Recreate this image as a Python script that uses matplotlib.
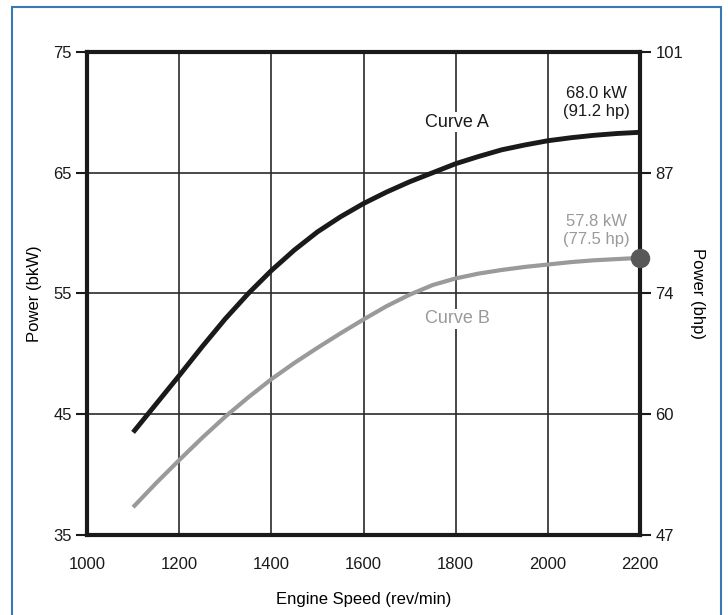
import numpy as np
import matplotlib.pyplot as plt
from matplotlib.patches import Rectangle

plt.rcParams['font.family'] = ['Liberation Sans', 'DejaVu Sans']

# valores (cada 50 rev/min)
rpm = [1100, 1150, 1200, 1250, 1300, 1350, 1400, 1450, 1500, 1550, 1600, 1650,
       1700, 1750, 1800, 1850, 1900, 1950, 2000, 2050, 2100, 2150, 2200]
curveA = [43.5, 45.85, 48.2, 50.6, 52.9, 55.0, 56.9, 58.6, 60.1, 61.35, 62.45, 63.4,
          64.25, 65.0, 65.75, 66.35, 66.9, 67.3, 67.65, 67.9, 68.1, 68.25, 68.35]
curveB = [37.3, 39.3, 41.2, 43.05, 44.8, 46.4, 47.9, 49.25, 50.5, 51.7, 52.85, 53.95,
          54.9, 55.7, 56.25, 56.65, 56.95, 57.2, 57.4, 57.6, 57.75, 57.85, 57.95]

xticks = [1000, 1200, 1400, 1600, 1800, 2000, 2200]
kw_ticks = [35, 45, 55, 65, 75]
hp_labels = ['47', '60', '74', '87', '101']

fig = plt.figure(figsize=(7.28, 6.15), dpi=100)
ax = fig.add_axes([87/728, 1-535/615, (640-87)/728, (535-52)/615])

# marco azul
fig.patches.append(Rectangle((12/728, -0.1), (721-12)/728, 1.1-7/615,
                             transform=fig.transFigure, fill=False,
                             edgecolor='#3a78b5', lw=1.5))

ax.set_xlim(1000, 2200)
ax.set_ylim(35, 75)

for x in xticks[1:-1]:
    ax.axvline(x, color='#2a2a2a', lw=1.2, zorder=1)
for y in kw_ticks[1:-1]:
    ax.axhline(y, color='#2a2a2a', lw=1.2, zorder=1)

ax.plot(rpm, curveA, color='#1a1a1a', lw=3.5, solid_capstyle='butt',
        solid_joinstyle='round', zorder=3)
ax.plot(rpm, curveB, color='#9a9a9a', lw=3.0, solid_capstyle='butt',
        solid_joinstyle='round', zorder=3)
ax.plot(rpm[-1], curveB[-1], 'o', color='#58585a', ms=13, zorder=5, clip_on=False)

for s in ax.spines.values():
    s.set_linewidth(3)
    s.set_color('#1a1a1a')

ax.set_xticks(xticks)
ax.set_yticks(kw_ticks)
ax.tick_params(axis='x', length=0, pad=16, labelsize=12, colors='#1a1a1a')
ax.tick_params(axis='y', length=8, width=1.5, pad=3, labelsize=12, colors='#1a1a1a')

ax2 = ax.twinx()
ax2.set_ylim(35, 75)
ax2.set_yticks(kw_ticks)
ax2.set_yticklabels(hp_labels)
ax2.tick_params(axis='y', length=8, width=1.5, pad=3, labelsize=12, colors='#1a1a1a')
for s in ax2.spines.values():
    s.set_visible(False)

ax.set_xlabel('Engine Speed (rev/min)', fontsize=12, labelpad=14)
ax.set_ylabel('Power (bkW)', fontsize=12, labelpad=8)
ax2.set_ylabel('Power (bhp)', fontsize=12, rotation=270, labelpad=16)

ax.text(1803, 69.2, 'Curve A', ha='center', va='center', fontsize=13, color='#1a1a1a',
        bbox=dict(facecolor='white', edgecolor='none', pad=1), zorder=4)
ax.text(1803, 52.9, 'Curve B', ha='center', va='center', fontsize=13, color='#9a9a9a',
        bbox=dict(facecolor='white', edgecolor='none', pad=1), zorder=4)
ax.text(2105, 70.8, '68.0 kW\n(91.2 hp)', ha='center', va='center', fontsize=12,
        color='#1a1a1a', linespacing=1.25, zorder=4)
ax.text(2105, 60.2, '57.8 kW\n(77.5 hp)', ha='center', va='center', fontsize=12,
        color='#9a9a9a', linespacing=1.25, zorder=4)

fig.savefig('out.png', dpi=100)
